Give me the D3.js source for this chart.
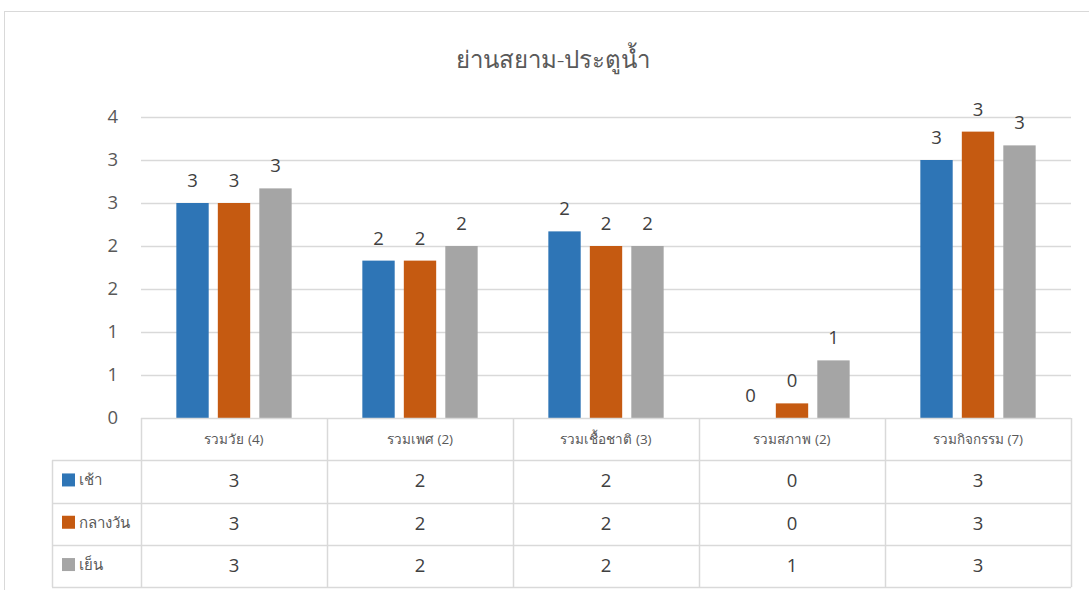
<!DOCTYPE html>
<html>
<head>
<meta charset="utf-8">
<script src="https://cdn.jsdelivr.net/npm/d3@7"></script>
<style>
  html, body { margin: 0; padding: 0; background: #fff; }
  svg { display: block; font-family: "Open Sans", "Noto Sans", "DejaVu Sans", sans-serif; }
</style>
</head>
<body>
<svg id="chart" width="1089" height="590"></svg>
<script>
// Chart data
const title = "ย่านสยาม-ประตูน้ำ";
const categories = ["รวมวัย (4)", "รวมเพศ (2)", "รวมเชื้อชาติ (3)", "รวมสภาพ (2)", "รวมกิจกรรม (7)"];
const seriesNames = ["เช้า", "กลางวัน", "เย็น"];
const seriesColors = ["#2E75B6", "#C55A11", "#A5A5A5"];
const morning = [2.5, 1.83, 2.17, 0, 3.0];
const midday = [2.5, 1.83, 2.0, 0.17, 3.33];
const evening = [2.67, 2.0, 2.0, 0.67, 3.17];
const yTicks = [0, 0.5, 1, 1.5, 2, 2.5, 3, 3.5];

const seriesValues = [morning, midday, evening];
const fmt = v => String(Math.round(v));

const svg = d3.select("#chart");
const W = 1089, H = 590;

// Plot geometry
const plotLeft = 141, plotRight = 1071, plotTop = 117, plotBottom = 418;
const tableLeft = 52;
const rowH = 42.3;
const gridColor = "#D9D9D9";
const textColor = "#595959";

// Chart frame
svg.append("rect")
  .attr("x", 4.5).attr("y", 11.5)
  .attr("width", W + 10).attr("height", H + 10)
  .attr("fill", "#fff").attr("stroke", gridColor).attr("stroke-width", 1);

// Title
svg.append("text")
  .attr("x", 553).attr("y", 68)
  .attr("text-anchor", "middle")
  .attr("font-size", 24)
  .attr("font-weight", 300)
  .attr("fill", textColor)
  .text(title);

// Scales
const x0 = d3.scaleBand().domain(categories).range([plotLeft, plotRight]).paddingInner(0).paddingOuter(0);
const groupW = x0.bandwidth() * 0.62;
const x1 = d3.scaleBand().domain(d3.range(seriesNames.length)).range([0, groupW]).paddingInner(0.22);
const y = d3.scaleLinear().domain([0, 3.5]).range([plotBottom, plotTop]);

// Gridlines
svg.append("g")
  .selectAll("line")
  .data(yTicks.filter(t => t > 0))
  .join("line")
  .attr("x1", plotLeft).attr("x2", plotRight)
  .attr("y1", d => Math.round(y(d)) + 0.5).attr("y2", d => Math.round(y(d)) + 0.5)
  .attr("stroke", gridColor).attr("stroke-width", 1.5);

// Y axis labels
const yAxis = d3.axisLeft(y).tickValues(yTicks).tickFormat(fmt).tickSize(0).tickPadding(0);
const yg = svg.append("g").attr("transform", `translate(${plotLeft - 23},0)`).call(yAxis);
yg.select(".domain").remove();
yg.selectAll("text")
  .attr("font-size", 18.5)
  .attr("fill", textColor)
  .attr("font-family", "'Open Sans', 'Noto Sans', sans-serif");

// Bars
const groups = svg.append("g")
  .selectAll("g")
  .data(categories)
  .join("g")
  .attr("transform", c => `translate(${x0(c) + (x0.bandwidth() - groupW) / 2},0)`);

groups.selectAll("rect")
  .data((c, ci) => seriesValues.map((vals, si) => ({ si, v: vals[ci] })))
  .join("rect")
  .attr("x", d => x1(d.si))
  .attr("width", x1.bandwidth())
  .attr("y", d => y(d.v))
  .attr("height", d => y(0) - y(d.v))
  .attr("fill", d => seriesColors[d.si]);

// Data labels
groups.selectAll("text.val")
  .data((c, ci) => seriesValues.map((vals, si) => ({ si, v: vals[ci] })))
  .join("text")
  .attr("class", "val")
  .attr("x", d => x1(d.si) + x1.bandwidth() / 2)
  .attr("y", d => y(d.v) - 16)
  .attr("text-anchor", "middle")
  .attr("font-size", 18.5)
  .attr("fill", "#404040")
  .text(d => fmt(d.v));

// Data table
const table = svg.append("g");
const headerTop = plotBottom, headerBottom = plotBottom + rowH;
const tableBottom = headerBottom + rowH * seriesNames.length;

// horizontal lines
table.append("line")
  .attr("x1", plotLeft).attr("x2", plotRight)
  .attr("y1", headerTop + 0.5).attr("y2", headerTop + 0.5)
  .attr("stroke", gridColor).attr("stroke-width", 1.5);
d3.range(seriesNames.length + 1).forEach(i => {
  const yy = Math.round(headerBottom + rowH * i) + 0.5;
  table.append("line")
    .attr("x1", tableLeft).attr("x2", plotRight)
    .attr("y1", yy).attr("y2", yy)
    .attr("stroke", gridColor).attr("stroke-width", 1.5);
});
// vertical lines
categories.concat(["end"]).forEach((c, i) => {
  const xx = Math.round(i < categories.length ? x0(c) : plotRight) + 0.5;
  table.append("line")
    .attr("x1", xx).attr("x2", xx)
    .attr("y1", headerTop).attr("y2", tableBottom)
    .attr("stroke", gridColor).attr("stroke-width", 1.5);
});
table.append("line")
  .attr("x1", tableLeft + 0.5).attr("x2", tableLeft + 0.5)
  .attr("y1", headerBottom).attr("y2", tableBottom)
  .attr("stroke", gridColor).attr("stroke-width", 1.5);

// category headers
table.selectAll("text.cat")
  .data(categories)
  .join("text")
  .attr("class", "cat")
  .attr("x", c => x0(c) + x0.bandwidth() / 2)
  .attr("y", headerTop + rowH / 2 + 5)
  .attr("text-anchor", "middle")
  .attr("font-size", 13.5)
  .attr("fill", textColor)
  .text(c => c);

// series rows: legend key + values
seriesNames.forEach((name, si) => {
  const rowTop = headerBottom + rowH * si;
  table.append("rect")
    .attr("x", 62).attr("y", rowTop + rowH / 2 - 8)
    .attr("width", 13).attr("height", 13)
    .attr("fill", seriesColors[si]);
  table.append("text")
    .attr("x", 79).attr("y", rowTop + rowH / 2 + 4)
    .attr("font-size", 15)
    .attr("fill", textColor)
    .text(name);
  table.selectAll(null)
    .data(seriesValues[si])
    .join("text")
    .attr("x", (v, ci) => x0(categories[ci]) + x0.bandwidth() / 2)
    .attr("y", rowTop + rowH / 2 + 6)
    .attr("text-anchor", "middle")
    .attr("font-size", 18.5)
    .attr("fill", "#404040")
    .text(v => fmt(v));
});
</script>
</body>
</html>
